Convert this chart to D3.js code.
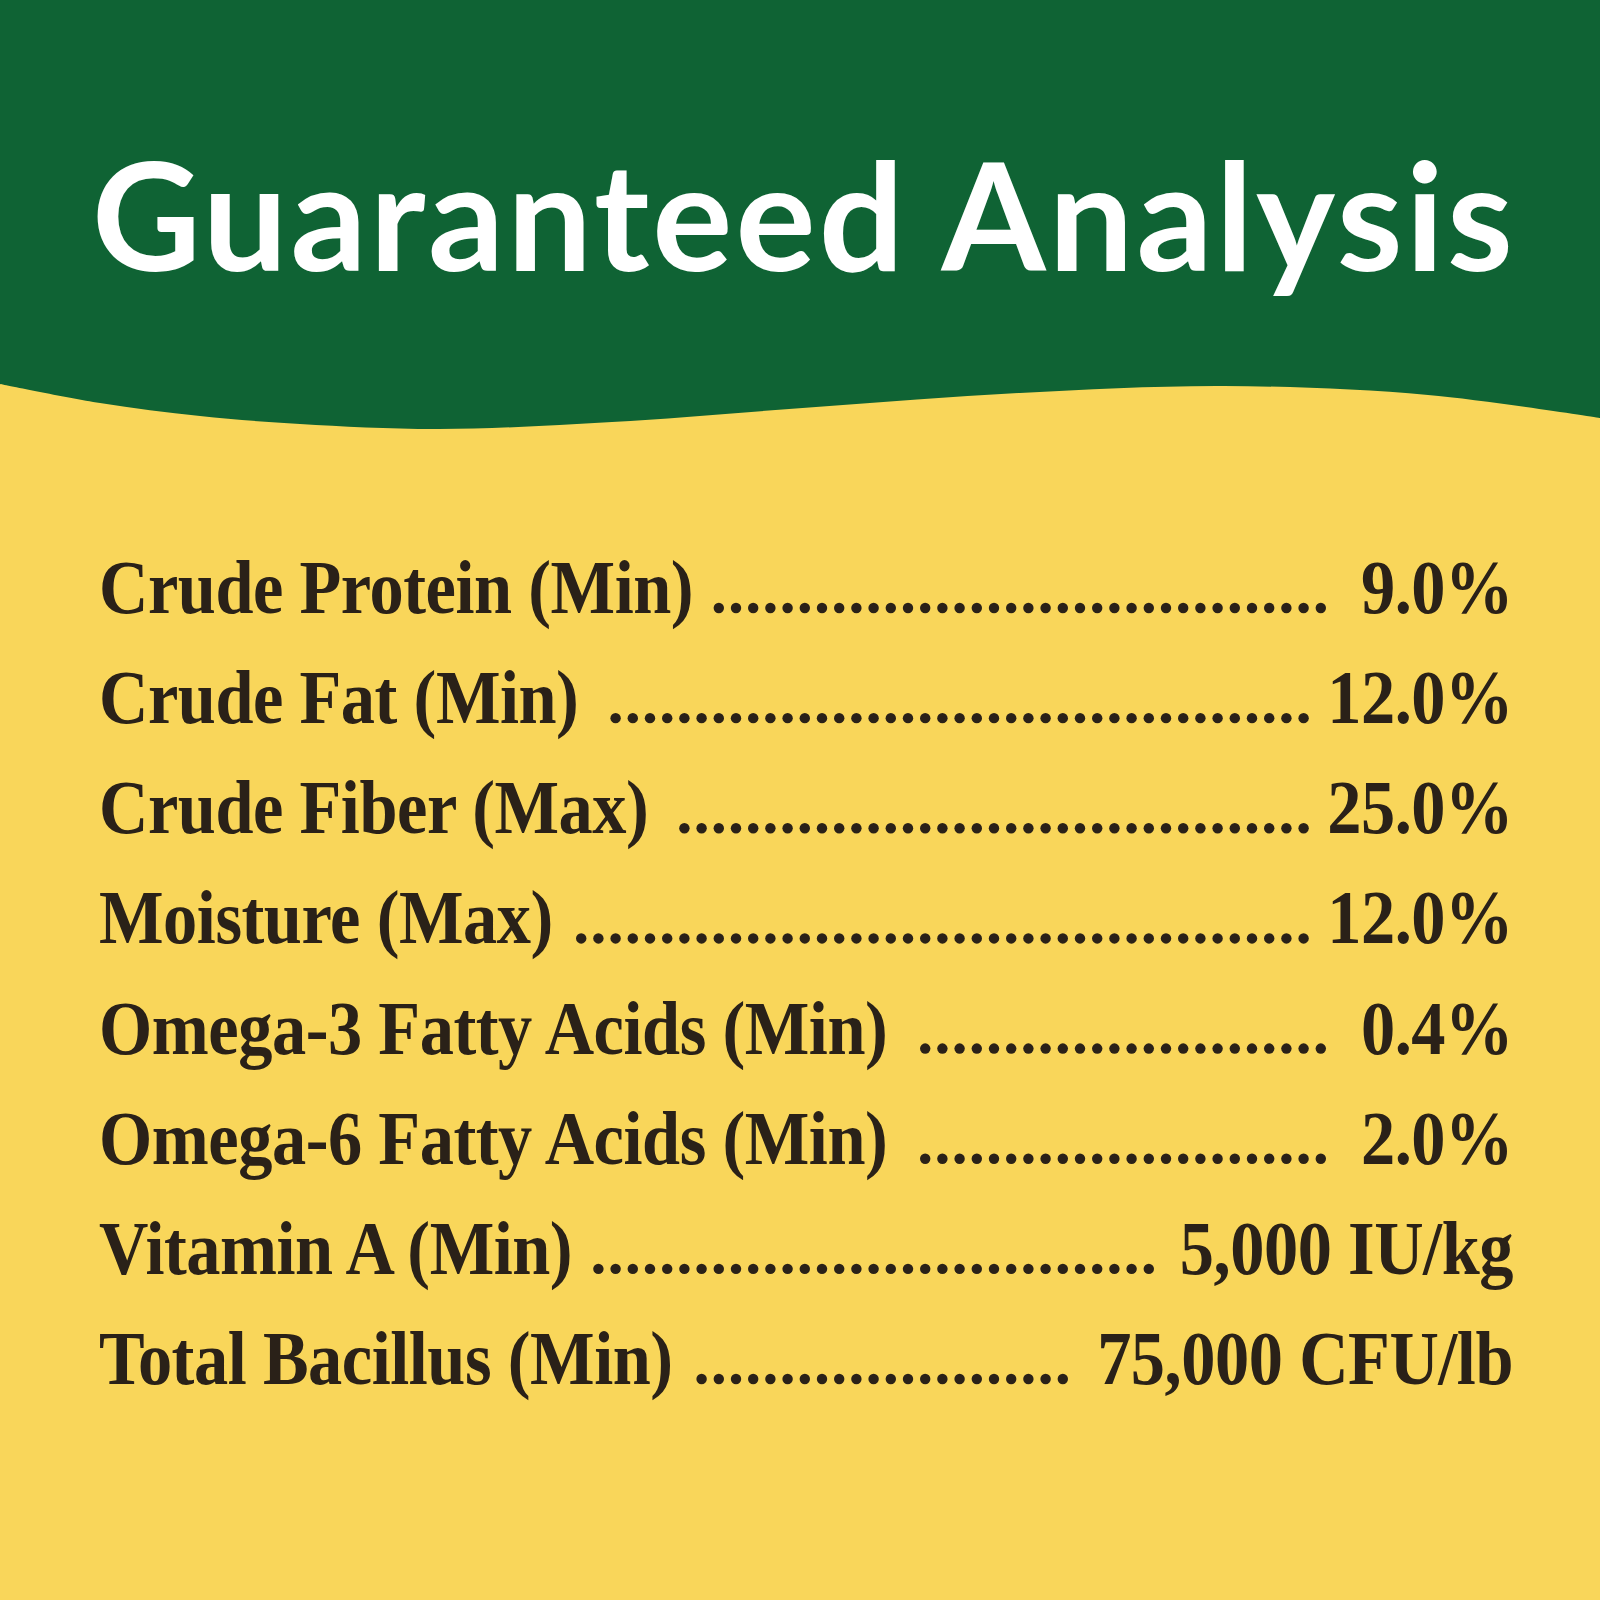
<!doctype html>
<html lang="en">
  <head>
    <meta charset="UTF-8" />
    <title>Guaranteed Analysis</title>
    <script src="https://d3js.org/d3.v7.min.js"></script>
    <style>
      body {
        margin: 0;
        padding: 0;
        background-color: #f9d65a;
      }

      svg {
        display: block;
      }

      .title {
        font-family: 'Lato', 'Open Sans', sans-serif;
        font-weight: 700;
        font-size: 150px;
        fill: #ffffff;
      }

      .row-label,
      .row-value {
        font-family: 'Liberation Serif', 'DejaVu Serif', serif;
        font-weight: 700;
        font-size: 76px;
        fill: #2a2118;
      }
    </style>
  </head>
  <body>
    <div id="chart"></div>

    <script>
      // Nutrient rows
      const labels = [
        'Crude Protein (Min)',
        'Crude Fat (Min)',
        'Crude Fiber (Max)',
        'Moisture (Max)',
        'Omega-3 Fatty Acids (Min)',
        'Omega-6 Fatty Acids (Min)',
        'Vitamin A (Min)',
        'Total Bacillus (Min)',
      ]
      const values = ['9.0%', '12.0%', '25.0%', '12.0%', '0.4%', '2.0%', '5,000 IU/kg', '75,000 CFU/lb']

      // Boundary between the green header and the yellow panel
      const waveX = [0, 100, 200, 300, 439, 612, 816, 1020, 1224, 1428, 1600]
      const waveY = [384, 403, 416, 424, 429, 422, 407, 393, 386, 395, 418]

      const width = 1600
      const height = 1600
      const green = '#0f6334'
      const yellow = '#f9d65a'
      const ink = '#2a2118'

      const svg = d3.select('#chart').append('svg').attr('width', width).attr('height', height)

      svg.append('rect').attr('width', width).attr('height', height).attr('fill', yellow)

      // Green header with wavy bottom edge
      const wave = d3
        .area()
        .x((d, i) => waveX[i])
        .y0(0)
        .y1((d, i) => waveY[i])
        .curve(d3.curveCatmullRom)

      svg.append('path').datum(waveX).attr('d', wave).attr('fill', green)

      // Title, spaced out to span the header
      const titleText = 'Guaranteed Analysis'
      const titleLeft = 92
      const titleRight = 1513
      const title = svg
        .append('text')
        .attr('class', 'title')
        .attr('x', titleLeft)
        .attr('y', 271)
        .text(titleText)

      const natural = title.node().getComputedTextLength()
      title.attr('letter-spacing', (titleRight - titleLeft - natural) / (titleText.length - 1))

      // Row positions
      const y = d3.scalePoint().domain(labels).range([613, 1384])

      const left = 99
      const right = 1513
      const squeeze = 0.9 // the original face is narrower than Liberation Serif
      const dotPitch = 17.2
      const dotOrigin = 564
      const dotLimit = 1323
      const gap = 22

      const rows = svg
        .selectAll('.row')
        .data(labels)
        .join('g')
        .attr('class', 'row')

      rows
        .append('text')
        .attr('class', 'row-label')
        .attr('letter-spacing', -0.5)
        .attr('transform', (d) => `translate(${left}, ${y(d)}) scale(${squeeze}, 1)`)
        .text((d) => d)

      rows
        .append('text')
        .attr('class', 'row-value')
        .attr('text-anchor', 'end')
        .attr('letter-spacing', -0.5)
        .attr('transform', (d) => `translate(${right}, ${y(d)}) scale(${squeeze}, 1)`)
        .text((d, i) => values[i])

      // Dot leaders on a shared grid between label and value
      rows.each(function (d) {
        const row = d3.select(this)
        const labelEnd = left + row.select('.row-label').node().getComputedTextLength() * squeeze
        const valueStart = right - row.select('.row-value').node().getComputedTextLength() * squeeze
        const from = labelEnd + gap
        const to = Math.min(dotLimit, valueStart - gap)
        const dots = []
        for (let k = Math.ceil((from - dotOrigin) / dotPitch); dotOrigin + k * dotPitch <= to; k++) {
          dots.push(dotOrigin + k * dotPitch)
        }
        row
          .selectAll('circle')
          .data(dots)
          .join('circle')
          .attr('cx', (c) => c)
          .attr('cy', y(d) - 5)
          .attr('r', 5.2)
          .attr('fill', ink)
      })
    </script>
  </body>
</html>
